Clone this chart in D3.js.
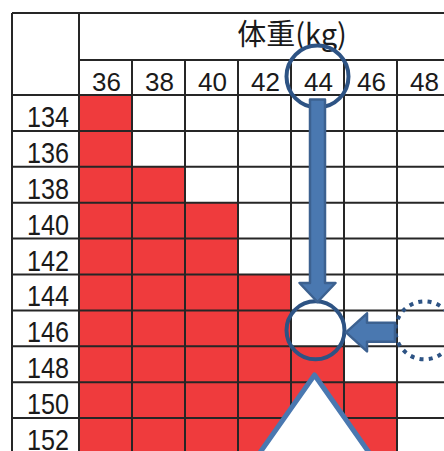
<!DOCTYPE html>
<html>
<head>
<meta charset="utf-8">
<script src="https://cdn.jsdelivr.net/npm/d3@7"></script>
<style>
  body { margin: 0; background: #fff; }
  svg { display: block; }
</style>
</head>
<body>
<div id="chart"></div>
<script>
// weights (kg) across the top, heights down the side
const weights = [36, 38, 40, 42, 44, 46, 48];
const heights = [134, 136, 138, 140, 142, 144, 146, 148, 150, 152];
// heaviest weight still shaded red for each height row
const maxRed = [36, 36, 38, 40, 40, 42, 42, 44, 46, 46];
const title = "体重(kg)";

const W = 444, H = 451;
const gridLeft = 12, gridTop = 13, headW = 67, titleH = 47, numH = 35;
const colW = 53, rowH = 35.9;

const svg = d3.select("#chart").append("svg")
    .attr("width", W).attr("height", H);

const x = d3.scaleBand().domain(weights)
    .range([gridLeft + headW, gridLeft + headW + colW * weights.length]);
const y = d3.scaleBand().domain(heights)
    .range([gridTop + titleH + numH, gridTop + titleH + numH + rowH * heights.length]);

// red cells
const cells = [];
heights.forEach((h, i) => {
    weights.forEach(w => { if (w <= maxRed[i]) cells.push({h, w}); });
});
svg.selectAll(".cell").data(cells).join("rect")
    .attr("class", "cell")
    .attr("x", d => x(d.w)).attr("y", d => y(d.h))
    .attr("width", x.bandwidth()).attr("height", y.bandwidth())
    .attr("fill", "#ef3b3d");

// grid lines
const g = svg.append("g").attr("stroke", "#262626").attr("stroke-width", 2);
const rightEnd = W + 10, bottomEnd = H + 10;
g.append("line").attr("x1", gridLeft).attr("x2", rightEnd).attr("y1", gridTop).attr("y2", gridTop);
g.append("line").attr("x1", gridLeft).attr("x2", gridLeft).attr("y1", gridTop).attr("y2", bottomEnd);
g.append("line").attr("x1", x.range()[0]).attr("x2", x.range()[0]).attr("y1", gridTop).attr("y2", bottomEnd);
g.append("line").attr("x1", x.range()[0]).attr("x2", rightEnd)
    .attr("y1", gridTop + titleH).attr("y2", gridTop + titleH);
weights.slice(1).forEach(w => {
    g.append("line").attr("x1", x(w)).attr("x2", x(w))
        .attr("y1", gridTop + titleH).attr("y2", bottomEnd);
});
heights.forEach(h => {
    g.append("line").attr("x1", gridLeft).attr("x2", rightEnd)
        .attr("y1", y(h)).attr("y2", y(h));
});

// title
svg.append("text")
    .attr("x", 292).attr("y", gridTop + 32)
    .attr("text-anchor", "middle")
    .style("font-family", "'Noto Sans CJK JP', sans-serif")
    .style("font-size", "29px")
    .attr("fill", "#1a1a1a")
    .text(title);

// column labels
svg.selectAll(".wlab").data(weights).join("text")
    .attr("class", "wlab")
    .attr("x", d => x(d) + x.bandwidth() / 2 + 1)
    .attr("y", gridTop + titleH + numH - 4)
    .attr("text-anchor", "middle")
    .style("font-family", "'Liberation Sans', Arial, sans-serif")
    .style("font-size", "26px")
    .attr("fill", "#1a1a1a")
    .text(d => d);

// row labels (condensed digits)
svg.selectAll(".hlab").data(heights).join("text")
    .attr("class", "hlab")
    .attr("x", x.range()[0] - 52)
    .attr("y", d => y(d) + y.bandwidth() - 4)
    .attr("textLength", 42)
    .attr("lengthAdjust", "spacingAndGlyphs")
    .style("font-family", "'Liberation Sans', sans-serif")
    .style("font-size", "30px")
    .attr("fill", "#1a1a1a")
    .text(d => d);

// annotations
const dark = "#2d5384", mid = "#4a78b0", edge = "#3c6190";
const cx44 = x(44) + x.bandwidth() / 2;
const cyHead = gridTop + titleH + numH / 2 - 1;
const cy146 = y(146) + y.bandwidth() / 2 + 2;
const cx48 = x(48) + x.bandwidth() / 2;

svg.append("circle").attr("cx", cx44).attr("cy", cyHead).attr("r", 31)
    .attr("fill", "none").attr("stroke", dark).attr("stroke-width", 4);
svg.append("circle").attr("cx", cx44 - 2).attr("cy", cy146).attr("r", 29)
    .attr("fill", "none").attr("stroke", dark).attr("stroke-width", 4);
svg.append("circle").attr("cx", cx48 + 1).attr("cy", cy146).attr("r", 29)
    .attr("fill", "none").attr("stroke", dark).attr("stroke-width", 4)
    .attr("stroke-dasharray", "4 5.3");

// down arrow
const ax = cx44, sw = 7.5, hw = 18;
const aTop = cyHead + 23, aHead = 283, aTip = 302;
svg.append("path")
    .attr("d", `M${ax - sw},${aTop} L${ax + sw},${aTop} L${ax + sw},${aHead} L${ax + hw},${aHead}
        L${ax},${aTip} L${ax - hw},${aHead} L${ax - sw},${aHead} Z`)
    .attr("fill", mid).attr("stroke", edge).attr("stroke-width", 2.5)
    .attr("stroke-linejoin", "round");

// left arrow
const ly = cy146 + 2, lsw = 9.5, lhw = 19;
const lTip = 346, lHead = 367, lTail = 395;
svg.append("path")
    .attr("d", `M${lTail},${ly - lsw} L${lHead},${ly - lsw} L${lHead},${ly - lhw} L${lTip},${ly}
        L${lHead},${ly + lhw} L${lHead},${ly + lsw} L${lTail},${ly + lsw} Z`)
    .attr("fill", mid).attr("stroke", edge).attr("stroke-width", 2.5)
    .attr("stroke-linejoin", "round");

// triangle
const tApex = 375;
svg.append("path")
    .attr("d", `M${cx44 - 3},${tApex} L${cx44 - 3 + 90},${tApex + 128} L${cx44 - 3 - 90},${tApex + 128} Z`)
    .attr("fill", "#fff").attr("stroke", mid).attr("stroke-width", 5)
    .attr("stroke-linejoin", "round");
</script>
</body>
</html>
